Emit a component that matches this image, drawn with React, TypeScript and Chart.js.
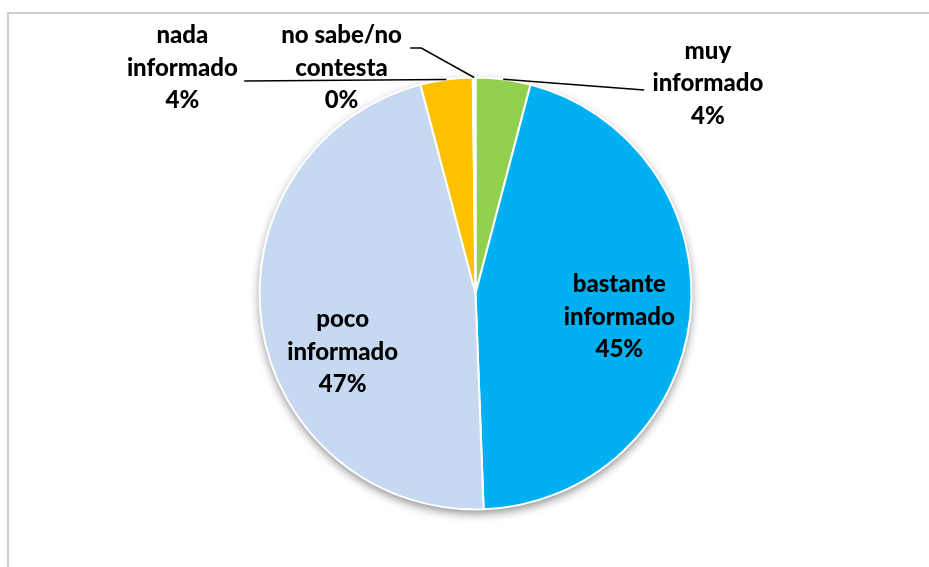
import React, { useEffect, useRef } from "react";
import { Chart, registerables } from "chart.js";

Chart.register(...registerables);

const categories = [
  "muy informado",
  "bastante informado",
  "poco informado",
  "nada informado",
  "no sabe/no contesta",
];
const labelLines = [
  ["muy", "informado"],
  ["bastante", "informado"],
  ["poco", "informado"],
  ["nada", "informado"],
  ["no sabe/no", "contesta"],
];
const values = [4.1, 45.3, 46.5, 3.9, 0.2];
const percentLabels = ["4%", "45%", "47%", "4%", "0%"];
const colors = ["#92D050", "#00B0F0", "#C6D9F1", "#FFC000", "#FFFFFF"];

// label placement relative to pie centre, in units of the pie radius (style config)
const placement: { dx: number; dy: number; line?: number[][] }[] = [
  { dx: 1.076, dy: -0.972, line: [[0.781, -0.942]] },
  { dx: 0.666, dy: 0.108 },
  { dx: -0.615, dy: 0.27 },
  { dx: -1.357, dy: -1.044, line: [[-1.071, -0.984]] },
  { dx: -0.62, dy: -1.044, line: [[-0.251, -1.136], [-0.302, -1.136]] },
];

const FONT = "900 24px Lato, 'Open Sans', sans-serif";
const LINE_H = 32.5;

const shadowPlugin = {
  id: "pieShadow",
  beforeDatasetsDraw(chart: any) {
    const meta = chart.getDatasetMeta(0);
    const arc = meta.data[0];
    if (!arc) return;
    const { x, y, outerRadius } = arc.getProps(["x", "y", "outerRadius"], true);
    const ctx = chart.ctx;
    ctx.save();
    ctx.shadowColor = "rgba(0,0,0,0.45)";
    ctx.shadowBlur = 10;
    ctx.shadowOffsetY = 4;
    ctx.beginPath();
    ctx.arc(x, y, outerRadius, 0, Math.PI * 2);
    ctx.fillStyle = "#ffffff";
    ctx.fill();
    ctx.restore();
  },
};

const labelPlugin = {
  id: "pieLabels",
  afterDatasetsDraw(chart: any) {
    const meta = chart.getDatasetMeta(0);
    const ctx = chart.ctx;
    ctx.save();
    meta.data.forEach((arc: any, i: number) => {
      const { x, y, startAngle, endAngle, outerRadius } = arc.getProps(
        ["x", "y", "startAngle", "endAngle", "outerRadius"],
        true
      );
      const r = outerRadius;
      const p = placement[i];
      if (p.line) {
        const mid = (startAngle + endAngle) / 2;
        ctx.beginPath();
        ctx.moveTo(x + Math.cos(mid) * r, y + Math.sin(mid) * r);
        p.line.forEach((pt) => ctx.lineTo(x + pt[0] * r, y + pt[1] * r));
        ctx.strokeStyle = "#000000";
        ctx.lineWidth = 1.5;
        ctx.stroke();
      }
      const lines = [...labelLines[i], percentLabels[i]];
      const lx = x + p.dx * r;
      const ly = y + p.dy * r;
      ctx.font = FONT;
      ctx.fillStyle = "#000000";
      ctx.textAlign = "center";
      ctx.textBaseline = "middle";
      lines.forEach((t, k) => {
        ctx.fillText(t, lx, ly + (k - (lines.length - 1) / 2) * LINE_H);
      });
    });
    ctx.restore();
  },
};

export default function App() {
  const ref = useRef<HTMLCanvasElement | null>(null);
  useEffect(() => {
    if (!ref.current) return;
    const chart = new Chart(ref.current, {
      type: "pie",
      data: {
        labels: categories,
        datasets: [
          {
            data: values,
            backgroundColor: colors,
            borderColor: "#ffffff",
            borderWidth: 2,
          },
        ],
      },
      options: {
        animation: false,
        responsive: false,
        devicePixelRatio: 1,
        layout: { padding: { left: 258.5, right: 236.5, top: 76.5, bottom: 56.5 } },
        plugins: {
          legend: { display: false },
          tooltip: { enabled: false },
        },
      },
      plugins: [shadowPlugin, labelPlugin],
    });
    return () => chart.destroy();
  }, []);
  return (
    <div
      style={{
        position: "fixed",
        left: 0,
        top: 0,
        width: 929,
        height: 567,
        overflow: "hidden",
        background: "#ffffff",
      }}
    >
      <div
        style={{
          position: "absolute",
          left: 7,
          top: 12,
          width: 960,
          height: 620,
          border: "2px solid #cfcfcf",
          boxSizing: "border-box",
        }}
      />
      <canvas
        ref={ref}
        width={929}
        height={567}
        style={{ position: "absolute", left: 0, top: 0, width: 929, height: 567 }}
      />
    </div>
  );
}
